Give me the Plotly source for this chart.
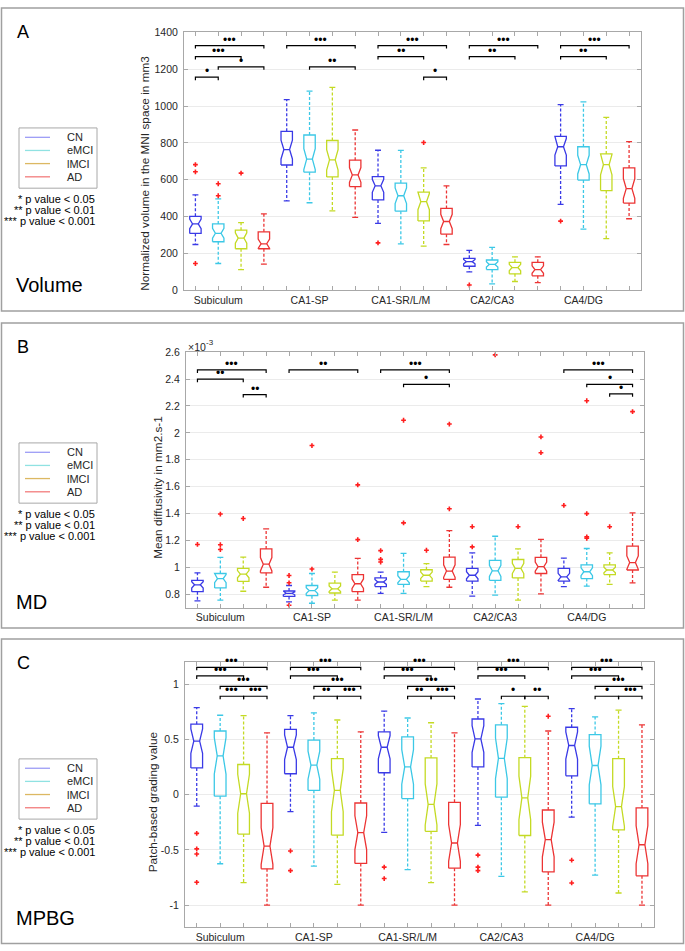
import plotly.graph_objects as go

W, H = 685, 951
FONT = "Liberation Sans, Arial, Helvetica, sans-serif"

# ---------------- data ----------------
REGIONS = ["Subiculum", "CA1-SP", "CA1-SR/L/M", "CA2/CA3", "CA4/DG"]
GROUPS = ["CN", "eMCI", "lMCI", "AD"]
# order of the 20 boxes: region-major, group-minor (CN, eMCI, lMCI, AD)

# Panel A: normalized volume (mm3)
VOL_HI = [518, 496, 367, 414, 1035, 1081, 1102, 870, 760, 759, 664, 567, 216, 233, 181, 181, 1008, 1023, 939, 807]
VOL_Q3 = [401, 360, 326, 317, 863, 843, 813, 706, 617, 582, 533, 444, 173, 164, 151, 151, 835, 779, 740, 664]
VOL_MED = [360, 309, 283, 252, 764, 712, 708, 626, 567, 513, 481, 373, 155, 140, 123, 112, 779, 682, 682, 552]
VOL_Q1 = [308, 263, 225, 225, 680, 641, 615, 563, 490, 429, 376, 304, 130, 112, 89, 78, 675, 598, 541, 473]
VOL_LO = [248, 145, 112, 142, 485, 475, 431, 395, 363, 252, 239, 248, 99, 34, 47, 41, 466, 332, 280, 388]
VOL_OUT = [[682, 643, 145], [578, 513], [636], [], [], [], [], [], [257], [], [802], [],
           [28], [], [], [], [375], [], [], []]
VOL_SIG_FROM = [1, 1, 2, 1, 5, 6, 9, 9, 11, 13, 13, 17, 17]
VOL_SIG_TO = [4, 3, 4, 2, 8, 8, 12, 11, 12, 16, 15, 20, 19]
VOL_SIG_LABEL = ["***", "***", "*", "*", "***", "**", "***", "**", "*", "***", "**", "***", "**"]
VOL_SIG_Y = [1329, 1269, 1213, 1157, 1329, 1213, 1329, 1269, 1157, 1329, 1269, 1329, 1269]
VOL_YTICKS = [0, 200, 400, 600, 800, 1000, 1200, 1400]
VOL_YTICKTEXT = ["0", "200", "400", "600", "800", "1000", "1200", "1400"]

# Panel B: mean diffusivity (x 1e-3 mm2.s-1)
MD_HI = [0.960, 1.075, 1.077, 1.286, 0.866, 0.955, 0.965, 1.067, 0.965, 1.105, 1.029, 1.273,
         1.108, 1.232, 1.138, 1.209, 1.070, 1.141, 1.108, 1.405]
MD_Q3 = [0.904, 0.955, 0.993, 1.138, 0.825, 0.866, 0.884, 0.947, 0.922, 0.968, 0.983, 1.077,
         0.993, 1.052, 1.059, 1.075, 0.993, 1.019, 1.019, 1.159]
MD_MED = [0.871, 0.917, 0.950, 1.024, 0.808, 0.828, 0.841, 0.879, 0.892, 0.912, 0.942, 0.973,
          0.942, 0.975, 0.993, 1.006, 0.930, 0.968, 0.981, 1.036]
MD_Q1 = [0.820, 0.848, 0.897, 0.960, 0.785, 0.790, 0.810, 0.820, 0.858, 0.874, 0.899, 0.912,
         0.899, 0.904, 0.922, 0.955, 0.899, 0.917, 0.947, 0.981]
MD_LO = [0.752, 0.757, 0.823, 0.853, 0.744, 0.734, 0.757, 0.757, 0.808, 0.808, 0.858, 0.853,
         0.787, 0.795, 0.757, 0.803, 0.858, 0.861, 0.874, 0.886]
MD_OUT = [[1.171], [1.397, 1.169, 1.133], [1.364], [], [0.940, 0.886, 0.719], [1.906, 0.988], [],
          [1.614, 1.207], [1.125, 1.060, 1.040], [2.094, 1.331], [1.128], [2.066, 1.436],
          [1.303, 1.153], [2.580], [1.303], [1.970, 1.853], [1.461], [2.239, 1.400, 1.227, 1.217],
          [1.303], [2.158]]
MD_SIG_FROM = [1, 1, 3, 5, 9, 10, 17, 18, 19]
MD_SIG_TO = [4, 3, 4, 8, 12, 12, 20, 20, 20]
MD_SIG_LABEL = ["***", "**", "**", "**", "***", "*", "***", "*", "*"]
MD_SIG_Y = [2.468, 2.399, 2.285, 2.468, 2.468, 2.361, 2.468, 2.361, 2.290]
MD_YTICKS = [0.8, 1.0, 1.2, 1.4, 1.6, 1.8, 2.0, 2.2, 2.4, 2.6]
MD_YTICKTEXT = ["0.8", "1", "1.2", "1.4", "1.6", "1.8", "2", "2.2", "2.4", "2.6"]

# Panel C: patch-based grading value
PBG_HI = [0.788, 0.719, 0.716, 0.560, 0.716, 0.741, 0.676, 0.569, 0.757, 0.694, 0.651, 0.560,
          0.866, 0.825, 0.800, 0.576, 0.778, 0.704, 0.766, 0.632]
PBG_Q3 = [0.638, 0.576, 0.273, -0.080, 0.591, 0.494, 0.326, -0.076, 0.569, 0.523, 0.332, -0.070,
          0.685, 0.632, 0.335, -0.139, 0.610, 0.544, 0.326, -0.120]
PBG_MED = [0.485, 0.351, 0.008, -0.466, 0.429, 0.267, 0.039, -0.345, 0.429, 0.251, -0.089, -0.438,
           0.504, 0.329, -0.030, -0.407, 0.445, 0.264, -0.108, -0.454]
PBG_Q1 = [0.242, -0.014, -0.357, -0.672, 0.189, 0.039, -0.367, -0.623, 0.198, -0.036, -0.332, -0.666,
          0.251, -0.023, -0.370, -0.700, 0.170, -0.083, -0.320, -0.735]
PBG_LO = [-0.105, -0.626, -0.797, -1.0, -0.154, -0.647, -0.813, -1.0, -0.342, -0.679, -0.797, -1.0,
          -0.279, -0.741, -0.881, -1.0, -0.204, -0.729, -0.891, -1.0]
PBG_OUT = [[-0.351, -0.491, -0.538, -0.794], [], [], [], [-0.510, -0.688], [], [], [],
           [-0.657, -0.760], [], [], [], [-0.548, -0.657, -0.688], [], [], [0.710],
           [-0.594, -0.800], [], [], []]
PBG_SIG_FROM = [1, 1, 2, 2, 3, 5, 5, 6, 6, 7, 9, 9, 10, 10, 11, 13, 13, 14, 15, 17, 17, 18, 18, 19]
PBG_SIG_TO = [4, 3, 4, 3, 4, 8, 7, 8, 7, 8, 12, 11, 12, 11, 12, 16, 15, 15, 16, 20, 19, 20, 19, 20]
PBG_SIG_LABEL = ["***", "***", "***", "***", "***",
                 "***", "***", "***", "**", "***",
                 "***", "***", "***", "**", "***",
                 "***", "***", "*", "**",
                 "***", "***", "***", "*", "***"]
PBG_SIG_Y = [1.153, 1.075, 0.981, 0.891, 0.891,
             1.153, 1.075, 0.981, 0.891, 0.891,
             1.153, 1.075, 0.981, 0.891, 0.891,
             1.153, 1.075, 0.891, 0.891,
             1.153, 1.075, 0.981, 0.891, 0.891]
PBG_YTICKS = [-1, -0.5, 0, 0.5, 1]
PBG_YTICKTEXT = ["-1", "-0.5", "0", "0.5", "1"]

P_TEXT = ["* p value < 0.05", "** p value < 0.01", "*** p value < 0.001"]

# ---------------- style ----------------
GROUP_COLORS = ["#3a3ae6", "#3cc8e6", "#c4da24", "#ec3434"]
LEGEND_COLORS = ["#9c9cf6", "#90e2e2", "#dcb862", "#f27c7c"]
OUTLIER_COLOR = "#ff1f1f"
AXIS_COLOR = "#a8a8a8"
TICK_FONT = dict(family=FONT, size=10.5, color="#262626")
BW = 0.25      # half box width (x units)
CW = 0.13      # half cap width
NOTCH = 0.28   # notch half-span as fraction of IQR

N = len(VOL_MED)
XPOS = list(range(1, N + 1))
LABEL_POS = [XPOS[4 * r + 1] for r in range(len(REGIONS))]


def px(x):
    return x / W


def py(y):
    return 1 - y / H


panels = [
    dict(xa="x", ya="y", rect=(184, 640.5, 26.8, 287.8), rng=[0, 1400],
         hi=VOL_HI, q3=VOL_Q3, med=VOL_MED, q1=VOL_Q1, lo=VOL_LO, out=VOL_OUT,
         sf=VOL_SIG_FROM, st=VOL_SIG_TO, sl=VOL_SIG_LABEL, sy=VOL_SIG_Y,
         yt=VOL_YTICKS, ytt=VOL_YTICKTEXT,
         frame=(2, 309), letter="A", title="Volume",
         ylabel="Normalized volume in the MNI space in mm3", ylab_xy=(145, 170)),
    dict(xa="x2", ya="y2", rect=(186, 644, 350.6, 609.5), rng=[0.7, 2.6],
         hi=MD_HI, q3=MD_Q3, med=MD_MED, q1=MD_Q1, lo=MD_LO, out=MD_OUT,
         sf=MD_SIG_FROM, st=MD_SIG_TO, sl=MD_SIG_LABEL, sy=MD_SIG_Y,
         yt=MD_YTICKS, ytt=MD_YTICKTEXT,
         frame=(321, 630), letter="B", title="MD",
         ylabel="Mean diffusivity in mm2.s-1", ylab_xy=(158, 488)),
    dict(xa="x3", ya="y3", rect=(185, 653.7, 664.5, 932.9), rng=[-1.2, 1.2],
         hi=PBG_HI, q3=PBG_Q3, med=PBG_MED, q1=PBG_Q1, lo=PBG_LO, out=PBG_OUT,
         sf=PBG_SIG_FROM, st=PBG_SIG_TO, sl=PBG_SIG_LABEL, sy=PBG_SIG_Y,
         yt=PBG_YTICKS, ytt=PBG_YTICKTEXT,
         frame=(641, 949.5), letter="C", title="MPBG",
         ylabel="Patch-based grading value", ylab_xy=(152.5, 806)),
]

fig = go.Figure()
shapes = []
annotations = []
layout_axes = {}

for k, P in enumerate(panels):
    xa, ya = P["xa"], P["ya"]
    x0, x1, y0, y1 = P["rect"]
    span = P["rng"][1] - P["rng"][0]
    unit_per_px = span / (y1 - y0)

    # ----- boxes -----
    for g in range(4):
        sx, sy_, wx, wy = [], [], [], []
        for i in range(g, N, 4):
            x = XPOS[i]
            q1, q3, md = P["q1"][i], P["q3"][i], P["med"][i]
            nh = NOTCH * (q3 - q1)
            nlo, nhi = max(q1, md - nh), min(q3, md + nh)
            l, r, li, ri = x - BW, x + BW, x - BW / 2, x + BW / 2
            sx += [l, l, li, l, l, r, r, ri, r, r, l, None]
            sy_ += [q1, nlo, md, nhi, q3, q3, nhi, md, nlo, q1, q1, None]
            sx += [li, ri, None]
            sy_ += [md, md, None]
            sx += [x - CW, x + CW, None, x - CW, x + CW, None]
            sy_ += [P["hi"][i], P["hi"][i], None, P["lo"][i], P["lo"][i], None]
            wx += [x, x, None, x, x, None]
            wy += [q3, P["hi"][i], None, q1, P["lo"][i], None]
        fig.add_trace(go.Scatter(x=wx, y=wy, mode="lines", xaxis=xa, yaxis=ya,
                                 line=dict(color=GROUP_COLORS[g], width=1.3, dash="3px,2px"),
                                 showlegend=False, hoverinfo="skip"))
        fig.add_trace(go.Scatter(x=sx, y=sy_, mode="lines", xaxis=xa, yaxis=ya,
                                 line=dict(color=GROUP_COLORS[g], width=1.3),
                                 name=GROUPS[g], showlegend=False, hoverinfo="skip"))
    ox, oy = [], []
    for i in range(N):
        for v in P["out"][i]:
            ox.append(XPOS[i])
            oy.append(v)
    fig.add_trace(go.Scatter(x=ox, y=oy, mode="markers", xaxis=xa, yaxis=ya,
                             marker=dict(symbol="cross", size=4, color=OUTLIER_COLOR),
                             showlegend=False, hoverinfo="skip"))

    # ----- significance brackets -----
    drop = 3 * unit_per_px
    bx, by = [], []
    for a, b, yv, lab in zip(P["sf"], P["st"], P["sy"], P["sl"]):
        bx += [a, a, b, b, None]
        by += [yv - drop, yv, yv, yv - drop, None]
        annotations.append(dict(x=(a + b) / 2, y=yv, xref=xa, yref=ya, text=lab.replace("*", "•"),
                                showarrow=False, yanchor="bottom", yshift=-2, borderpad=0,
                                font=dict(family=FONT, size=12, color="black")))
    fig.add_trace(go.Scatter(x=bx, y=by, mode="lines", xaxis=xa, yaxis=ya,
                             line=dict(color="black", width=1.2),
                             showlegend=False, hoverinfo="skip"))

    # ----- axes -----
    xkey = "xaxis" if k == 0 else f"xaxis{k + 1}"
    ykey = "yaxis" if k == 0 else f"yaxis{k + 1}"
    layout_axes[xkey] = dict(domain=[px(x0), px(x1)], anchor=ya, range=[0.5, N + 0.5],
                             tickmode="array", tickvals=LABEL_POS, ticktext=REGIONS,
                             ticks="inside", ticklen=4, tickcolor=AXIS_COLOR,
                             minor=dict(tickmode="array", tickvals=XPOS, ticks="inside",
                                        ticklen=4, tickcolor=AXIS_COLOR, showgrid=False),
                             showline=True, linecolor=AXIS_COLOR,
                             linewidth=1, mirror="ticks", showgrid=False, zeroline=False,
                             tickfont=TICK_FONT, fixedrange=True)
    layout_axes[ykey] = dict(domain=[py(y1), py(y0)], anchor=xa, range=P["rng"],
                             tickmode="array", tickvals=P["yt"], ticktext=P["ytt"],
                             ticks="inside", ticklen=4, ticklabelstandoff=3,
                             tickcolor=AXIS_COLOR, showline=True, linecolor=AXIS_COLOR,
                             linewidth=1, mirror="ticks", showgrid=True, gridcolor="#ebebeb",
                             gridwidth=1, zeroline=False, tickfont=TICK_FONT, fixedrange=True)

    # ----- panel frame, labels, legend -----
    ft, fb = P["frame"]
    shapes.append(dict(type="rect", xref="paper", yref="paper", x0=px(1.5), x1=px(683.5),
                       y0=py(fb), y1=py(ft), line=dict(color="#a0a0a0", width=1.5)))
    annotations.append(dict(x=px(15), y=py(ft + 24), xref="paper", yref="paper", text=P["letter"],
                            showarrow=False, xanchor="left", yanchor="middle",
                            font=dict(family=FONT, size=18, color="black")))
    annotations.append(dict(x=px(14), y=py(fb - 26), xref="paper", yref="paper", text=P["title"],
                            showarrow=False, xanchor="left", yanchor="middle",
                            font=dict(family=FONT, size=20, color="black")))
    lx, ly = P["ylab_xy"]
    annotations.append(dict(x=px(lx), y=py(ly), xref="paper", yref="paper", text=P["ylabel"],
                            showarrow=False, textangle=-90, xanchor="center", yanchor="middle",
                            font=dict(family=FONT, size=11.8, color="#262626")))
    shapes.append(dict(type="rect", xref="paper", yref="paper", x0=px(19), x1=px(97),
                       y0=py(ft + 182.5), y1=py(ft + 121.5), line=dict(color="#a8a8a8", width=1),
                       fillcolor="white"))
    for g, off in enumerate([131, 144.3, 157.6, 171]):
        shapes.append(dict(type="line", xref="paper", yref="paper", x0=px(25), x1=px(50),
                           y0=py(ft + off), y1=py(ft + off),
                           line=dict(color=LEGEND_COLORS[g], width=1.3)))
        annotations.append(dict(x=px(65), y=py(ft + off), xref="paper", yref="paper",
                                text=GROUPS[g], showarrow=False, xanchor="left", yanchor="middle",
                                font=dict(family=FONT, size=11, color="#262626")))
    for j, t in enumerate(P_TEXT):
        annotations.append(dict(x=px(97), y=py(ft + 193.5 + 11 * j), xref="paper", yref="paper",
                                text=t, showarrow=False, xanchor="right", yanchor="middle",
                                font=dict(family=FONT, size=11, color="black")))

# x10^-3 exponent label for MD panel
annotations.append(dict(x=px(186), y=py(345), xref="paper", yref="paper",
                        text="×10", showarrow=False, xanchor="left", yanchor="middle",
                        font=dict(family=FONT, size=10.5, color="#262626")))
annotations.append(dict(x=px(204), y=py(341), xref="paper", yref="paper",
                        text="-3", showarrow=False, xanchor="left", yanchor="middle",
                        font=dict(family=FONT, size=8, color="#262626")))

fig.update_layout(width=W, height=H, margin=dict(l=0, r=0, t=0, b=0),
                  paper_bgcolor="white", plot_bgcolor="white", showlegend=False,
                  shapes=shapes, annotations=annotations, **layout_axes)

fig.write_html("out.html", config={"displayModeBar": False},
               post_script="document.body.style.margin='0';document.body.style.overflow='hidden';")
